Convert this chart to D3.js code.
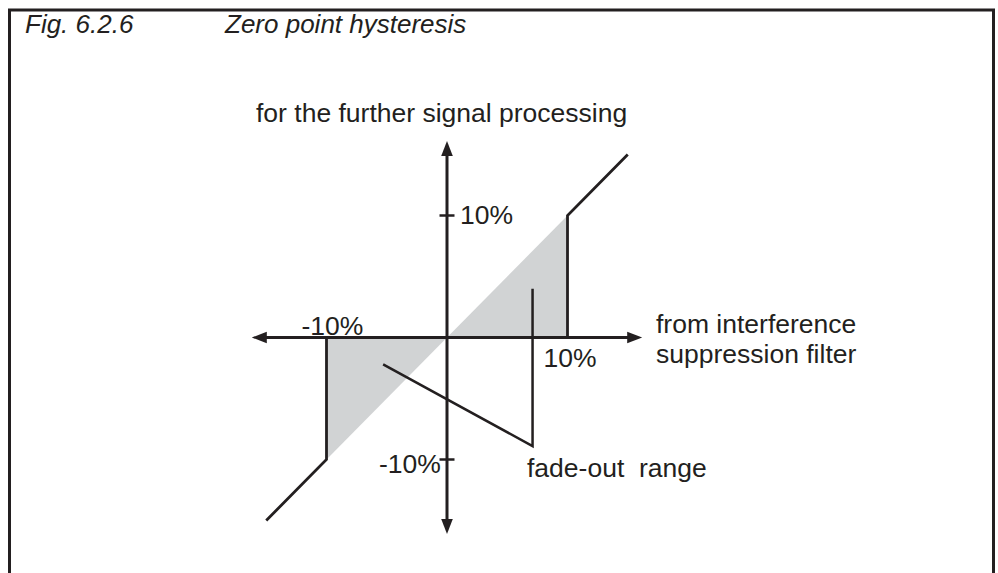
<!DOCTYPE html>
<html>
<head>
<meta charset="utf-8">
<script src="https://cdn.jsdelivr.net/npm/d3@7"></script>
<style>
  html, body { margin: 0; padding: 0; background: #fff; }
  svg { display: block; }
  text { font-family: "Liberation Sans", Arial, sans-serif; fill: #231f20; }
</style>
</head>
<body>
<svg id="chart" width="998" height="573"></svg>
<script>
// Zero point hysteresis: input (x, %) vs. output (y, %)
const axisExtentX = [-16.2, 16.2];
const axisExtentY = [-16.1, 16.1];

// characteristic branches outside the dead band
const upperBranch = [[10, 0], [10, 10], [15, 15]];
const lowerBranch = [[-10, 0], [-10, -10], [-15, -15]];

// suppressed area between the identity line and zero output
const upperBand = [[0, 0], [10, 10], [10, 0]];
const lowerBand = [[0, 0], [-10, -10], [-10, 0]];

// pointer lines for the fade-out range label
const fadeOutPointer = [[7.1, 4.0], [7.1, -8.9], [-5.3, -2.2]];

const yTicks = [10, -10];
const xTickLabels = [
  { v: -10, text: "-10%" },
  { v: 10, text: "10%" }
];
const yTickLabels = [
  { v: 10, text: "10%" },
  { v: -10, text: "-10%" }
];

const ink = "#231f20";
const shade = "#d1d3d4";

const svg = d3.select("#chart");

const x = d3.scaleLinear().domain([-10, 10]).range([326.5, 567.5]);
const y = d3.scaleLinear().domain([-10, 10]).range([459.5, 215.5]);

const line = d3.line().x(d => x(d[0])).y(d => y(d[1]));

// outer frame (open at the bottom)
svg.append("path")
  .attr("d", "M9.5,573 L9.5,10 L993.5,10 L993.5,573")
  .attr("fill", "none").attr("stroke", ink).attr("stroke-width", 3);

// title row
const tfs = 26;
svg.append("text").attr("x", 25).attr("y", 33)
  .attr("font-size", tfs).attr("font-style", "italic").text("Fig. 6.2.6");
svg.append("text").attr("x", 225).attr("y", 33)
  .attr("font-size", tfs).attr("font-style", "italic").text("Zero point hysteresis");

// shaded bands
svg.selectAll("path.band").data([upperBand, lowerBand]).enter()
  .append("path").attr("class", "band")
  .attr("d", d => line(d) + "Z")
  .attr("fill", shade).attr("stroke", "none");

// axes
const x0 = x(0), y0 = y(0);
const g = svg.append("g").attr("stroke", ink).attr("stroke-width", 3);
g.append("line")
  .attr("x1", x(axisExtentX[0]) + 12).attr("x2", x(axisExtentX[1]) - 12)
  .attr("y1", y0).attr("y2", y0);
g.append("line")
  .attr("x1", x0).attr("x2", x0)
  .attr("y1", y(axisExtentY[1]) + 12).attr("y2", y(axisExtentY[0]) - 12);

// arrow heads
const aL = 15, aW = 5.8;
const heads = [
  [[x(axisExtentX[1]), y0], [x(axisExtentX[1]) - aL, y0 - aW], [x(axisExtentX[1]) - aL, y0 + aW]],
  [[x(axisExtentX[0]), y0], [x(axisExtentX[0]) + aL, y0 - aW], [x(axisExtentX[0]) + aL, y0 + aW]],
  [[x0, y(axisExtentY[1])], [x0 - aW, y(axisExtentY[1]) + aL], [x0 + aW, y(axisExtentY[1]) + aL]],
  [[x0, y(axisExtentY[0])], [x0 - aW, y(axisExtentY[0]) - aL], [x0 + aW, y(axisExtentY[0]) - aL]]
];
svg.selectAll("path.head").data(heads).enter()
  .append("path").attr("class", "head")
  .attr("d", d => "M" + d.map(p => p.join(",")).join("L") + "Z")
  .attr("fill", ink);

// y ticks
svg.selectAll("line.ytick").data(yTicks).enter()
  .append("line").attr("class", "ytick")
  .attr("x1", x0 - 7.5).attr("x2", x0 + 7.5)
  .attr("y1", d => y(d)).attr("y2", d => y(d))
  .attr("stroke", ink).attr("stroke-width", 2.5);

// characteristic
svg.selectAll("path.branch").data([upperBranch, lowerBranch]).enter()
  .append("path").attr("class", "branch")
  .attr("d", line)
  .attr("fill", "none").attr("stroke", ink).attr("stroke-width", 2.8)
  .attr("stroke-linejoin", "miter");

// fade-out pointer
svg.append("path")
  .attr("d", line(fadeOutPointer))
  .attr("fill", "none").attr("stroke", ink).attr("stroke-width", 2.5)
  .attr("stroke-linejoin", "miter");

// tick labels
const fs = 26.5;
svg.append("text").attr("x", x(xTickLabels[0].v) - 25).attr("y", y0 - 3)
  .attr("font-size", fs).text(xTickLabels[0].text);
svg.append("text").attr("x", x(xTickLabels[1].v) - 24).attr("y", y0 + 29)
  .attr("font-size", fs).text(xTickLabels[1].text);
svg.append("text").attr("x", x0 + 13).attr("y", y(yTickLabels[0].v) + 8.5)
  .attr("font-size", fs).text(yTickLabels[0].text);
svg.append("text").attr("x", x0 - 68).attr("y", y(yTickLabels[1].v) + 13.5)
  .attr("font-size", fs).text(yTickLabels[1].text);

// axis titles
svg.append("text").attr("x", 256).attr("y", 122)
  .attr("font-size", fs).text("for the further signal processing");
svg.append("text").attr("x", 656).attr("y", 333)
  .attr("font-size", fs).text("from interference");
svg.append("text").attr("x", 656).attr("y", 363)
  .attr("font-size", fs).text("suppression filter");
svg.append("text").attr("x", 527).attr("y", 477)
  .attr("font-size", fs).attr("xml:space", "preserve").text("fade-out  range");
</script>
</body>
</html>
